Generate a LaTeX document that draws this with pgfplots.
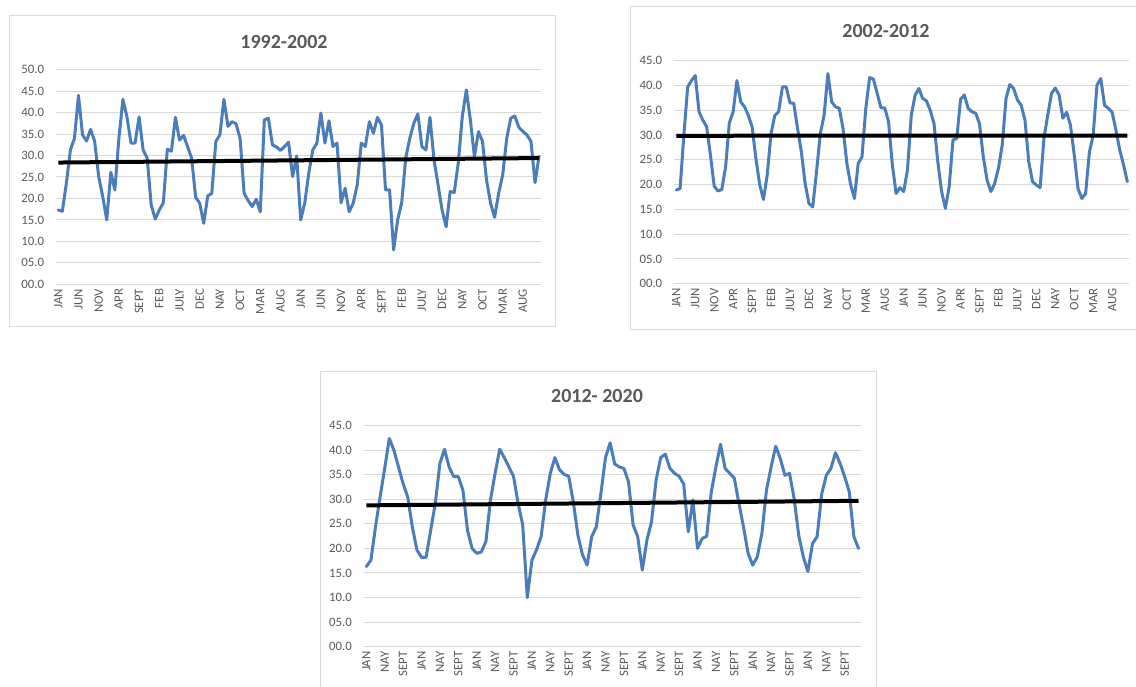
\documentclass[border=0pt]{standalone}
\usepackage{fontspec}
\setmainfont{Carlito}
\usepackage{pgfplots}
\usepackage{pgfplotstable}
\pgfplotsset{compat=1.18}

\definecolor{gridgray}{HTML}{D9D9D9}
\definecolor{textgray}{HTML}{595959}
\definecolor{seriesblue}{HTML}{4A7EBB}

% Monthly series, 1992-2002
\pgfplotstableread{
x y
0 17.3
1 17.0
2 23.5
3 31.3
4 34.0
5 44.0
6 34.8
7 33.4
8 36.1
9 33.3
10 25.1
11 20.4
12 15.0
13 26.1
14 22.0
15 34.0
16 43.1
17 39.0
18 32.9
19 32.9
20 39.0
21 31.3
22 29.4
23 18.5
24 15.2
25 17.3
26 19.0
27 31.5
28 31.0
29 38.9
30 33.6
31 34.7
32 32.1
33 29.4
34 20.3
35 18.9
36 14.2
37 20.6
38 21.2
39 33.3
40 34.8
41 43.1
42 36.8
43 37.9
44 37.4
45 34.0
46 21.2
47 19.5
48 18.1
49 19.8
50 16.9
51 38.3
52 38.7
53 32.5
54 32.0
55 31.2
56 32.1
57 33.1
58 25.1
59 29.9
60 15.0
61 18.9
62 25.9
63 31.3
64 32.9
65 39.9
66 32.9
67 38.1
68 32.1
69 32.9
70 19.0
71 22.4
72 16.9
73 18.9
74 23.2
75 32.9
76 32.1
77 37.9
78 35.2
79 38.9
80 37.1
81 22.0
82 22.0
83 8.0
84 15.0
85 19.0
86 29.4
87 34.0
88 37.5
89 39.7
90 32.1
91 31.3
92 38.9
93 29.0
94 23.2
95 17.3
96 13.4
97 21.6
98 21.4
99 28.2
100 39.1
101 45.3
102 38.3
103 29.8
104 35.6
105 33.3
106 24.3
107 18.9
108 15.6
109 21.2
110 25.5
111 34.0
112 38.7
113 39.2
114 36.6
115 35.6
116 34.8
117 33.3
118 23.7
119 29.8
}\tabA

% Monthly series, 2002-2012
\pgfplotstableread{
x y
0 18.9
1 19.2
2 30.0
3 39.7
4 41.0
5 42.0
6 34.7
7 33.0
8 31.7
9 26.0
10 19.7
11 18.7
12 19.0
13 23.5
14 32.5
15 34.7
16 41.0
17 36.7
18 35.7
19 34.0
20 31.7
21 25.3
22 20.0
23 17.0
24 22.0
25 30.3
26 34.0
27 34.7
28 39.7
29 39.7
30 36.5
31 36.4
32 31.3
33 26.6
34 20.2
35 16.2
36 15.5
37 22.6
38 30.3
39 34.0
40 42.4
41 36.7
42 35.7
43 35.4
44 31.3
45 24.3
46 20.0
47 17.2
48 24.3
49 25.6
50 35.4
51 41.6
52 41.3
53 38.4
54 35.5
55 35.5
56 32.7
57 24.0
58 18.2
59 19.4
60 18.6
61 23.0
62 34.0
63 38.0
64 39.4
65 37.4
66 36.9
67 35.0
68 32.3
69 24.6
70 18.6
71 15.2
72 19.6
73 29.0
74 29.3
75 37.2
76 38.1
77 35.4
78 34.7
79 34.4
80 32.3
81 25.6
82 20.9
83 18.6
84 20.2
85 23.3
86 28.0
87 37.4
88 40.2
89 39.4
90 37.1
91 36.0
92 33.0
93 24.6
94 20.6
95 19.9
96 19.4
97 29.3
98 34.0
99 38.4
100 39.5
101 38.1
102 33.4
103 34.6
104 32.0
105 26.0
106 19.2
107 17.2
108 18.2
109 26.6
110 30.0
111 40.1
112 41.4
113 36.0
114 35.4
115 34.6
116 31.0
117 27.0
118 24.0
119 20.6
}\tabB

% Monthly series, 2012-2020
\pgfplotstableread{
x y
0 16.3
1 17.6
2 24.4
3 30.5
4 36.3
5 42.4
6 40.0
7 36.6
8 33.2
9 30.5
10 24.4
11 19.7
12 18.2
13 18.2
14 23.7
15 29.2
16 37.3
17 40.2
18 36.6
19 34.6
20 34.6
21 31.9
22 23.7
23 20.0
24 19.0
25 19.3
26 21.4
27 29.9
28 35.3
29 40.2
30 38.5
31 36.6
32 34.7
33 29.2
34 24.8
35 10.0
36 17.6
37 19.7
38 22.4
39 29.9
40 35.3
41 38.5
42 36.0
43 35.1
44 34.7
45 29.5
46 22.7
47 18.7
48 16.6
49 22.4
50 24.4
51 31.2
52 38.5
53 41.5
54 37.2
55 36.6
56 36.3
57 33.6
58 24.8
59 22.4
60 15.6
61 21.7
62 25.4
63 33.9
64 38.5
65 39.2
66 36.3
67 35.3
68 34.7
69 33.1
70 23.4
71 29.9
72 20.0
73 22.0
74 22.5
75 31.5
76 36.6
77 41.2
78 36.3
79 35.3
80 34.3
81 29.2
82 24.4
83 19.0
84 16.6
85 18.3
86 23.1
87 31.9
88 36.6
89 40.8
90 38.3
91 34.9
92 35.3
93 30.2
94 22.7
95 18.3
96 15.3
97 21.0
98 22.4
99 31.1
100 34.9
101 36.3
102 39.5
103 37.3
104 34.6
105 31.5
106 22.4
107 20.0
}\tabC

\pgfplotsset{
  monthchart/.style={
    scale only axis,
    clip=false,
    axis line style={draw=none},
    major tick length=0pt,
    ymajorgrids,
    grid style={gridgray, line width=0.75pt},
    ymin=0,
    /pgf/number format/assume math mode=true,
    tick label style={font=\fontsize{9.6}{11}\selectfont, text=textgray},
    xticklabel style={rotate=90, anchor=east},
    yticklabel style={xshift=-5.6pt},
  },
  series/.style={seriesblue, line width=2.25pt, line join=round, line cap=round, mark=none},
  trend/.style={black, line width=3pt, mark=none},
}

\newcommand{\charttitle}[2]{%
  \node[text=textgray, font=\fontsize{15}{18}\selectfont\bfseries] at (#1) {#2};}

\begin{document}
\begin{tikzpicture}
  % chart frames
  \draw[gridgray, line width=0.75pt] (7.1pt,269.25pt) rectangle (416.25pt,502.5pt);
  \draw[gridgray, line width=0.75pt] (472.5pt,267pt) rectangle (854pt,509.25pt);
  \draw[gridgray, line width=0.75pt] (240pt,-2pt) rectangle (657pt,235.5pt);

  % 1992-2002
  \begin{axis}[monthchart,
      at={(42.2pt,301.3pt)}, anchor=south west,
      width=363.6pt, height=160.9pt,
      xmin=-0.5, xmax=119.5, ymax=50,
      ytick={0,5,...,50},
      yticklabels={00.0,05.0,10.0,15.0,20.0,25.0,30.0,35.0,40.0,45.0,50.0},
      xtick={0,5,...,115},
      xticklabels={JAN,JUN,NOV,APR,SEPT,FEB,JULY,DEC,NAY,OCT,MAR,AUG,
                   JAN,JUN,NOV,APR,SEPT,FEB,JULY,DEC,NAY,OCT,MAR,AUG}]
    \addplot[series] table[x=x, y=y] {\tabA};
    \addplot[trend] table[x=x, y={create col/linear regression={y=y}}] {\tabA};
  \end{axis}

  % 2002-2012
  \begin{axis}[monthchart,
      at={(505.8pt,301.7pt)}, anchor=south west,
      width=341.1pt, height=167.25pt,
      xmin=-0.5, xmax=119.5, ymax=45,
      ytick={0,5,...,45},
      yticklabels={00.0,05.0,10.0,15.0,20.0,25.0,30.0,35.0,40.0,45.0},
      xtick={0,5,...,115},
      xticklabels={JAN,JUN,NOV,APR,SEPT,FEB,JULY,DEC,NAY,OCT,MAR,AUG,
                   JAN,JUN,NOV,APR,SEPT,FEB,JULY,DEC,NAY,OCT,MAR,AUG}]
    \addplot[series] table[x=x, y=y] {\tabB};
    \addplot[trend] table[x=x, y={create col/linear regression={y=y}}] {\tabB};
  \end{axis}

  % 2012-2020
  \begin{axis}[monthchart,
      at={(273.0pt,29.5pt)}, anchor=south west,
      width=372.6pt, height=165.75pt,
      xmin=-0.5, xmax=107.5, ymax=45,
      ytick={0,5,...,45},
      yticklabels={00.0,05.0,10.0,15.0,20.0,25.0,30.0,35.0,40.0,45.0},
      xtick={0,4,...,104},
      xticklabels={JAN,NAY,SEPT,JAN,NAY,SEPT,JAN,NAY,SEPT,JAN,NAY,SEPT,
                   JAN,NAY,SEPT,JAN,NAY,SEPT,JAN,NAY,SEPT,JAN,NAY,SEPT,
                   JAN,NAY,SEPT}]
    \addplot[series] table[x=x, y=y] {\tabC};
    \addplot[trend] table[x=x, y={create col/linear regression={y=y}}] {\tabC};
  \end{axis}

  \charttitle{213pt,483.2pt}{1992-2002}
  \charttitle{664.5pt,491.25pt}{2002-2012}
  \charttitle{447.75pt,217.5pt}{2012- 2020}

  \pgfresetboundingbox
  \useasboundingbox (0,0) rectangle (852pt,514.5pt);
\end{tikzpicture}
\end{document}
